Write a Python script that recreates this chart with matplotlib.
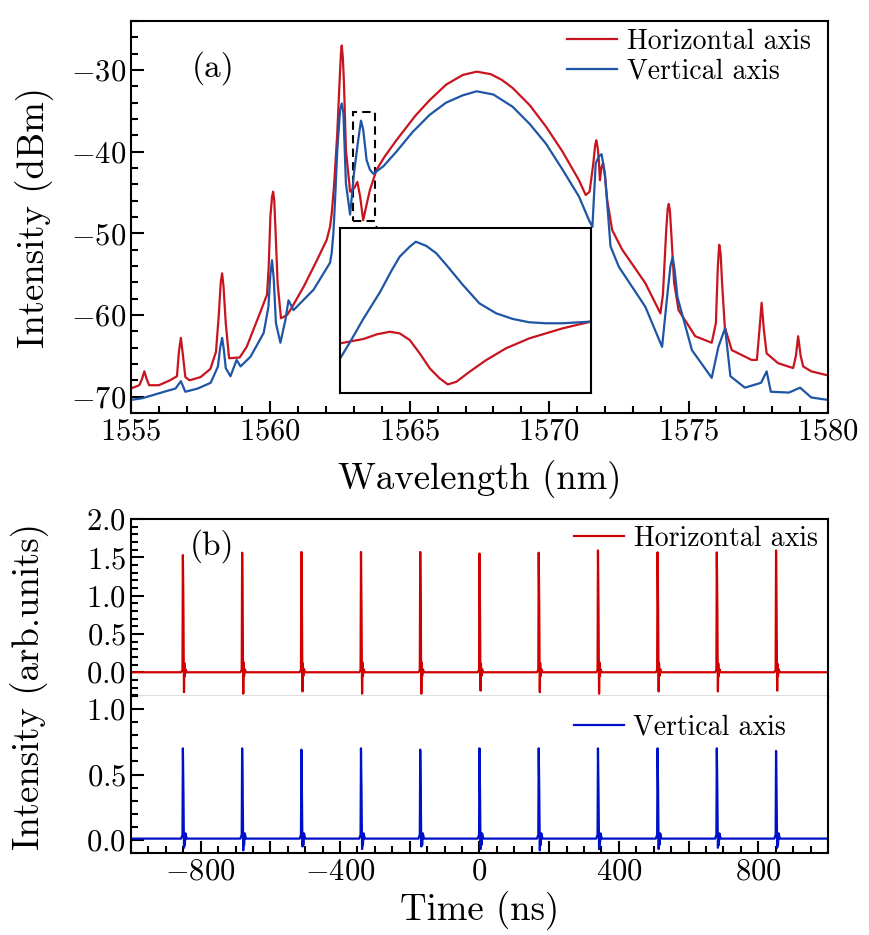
import matplotlib
matplotlib.use('Agg')
import matplotlib.pyplot as plt
from matplotlib.patches import Rectangle
from matplotlib.ticker import MultipleLocator, FuncFormatter

plt.rcParams['font.family'] = 'serif'
plt.rcParams['font.serif'] = ['cmr10']
plt.rcParams['mathtext.fontset'] = 'cm'
plt.rcParams['axes.formatter.use_mathtext'] = True
plt.rcParams['axes.unicode_minus'] = True

# ---- (a) optical spectrum ----
red_wl = [1555.0, 1555.3, 1555.4, 1555.48, 1555.56, 1555.65, 1556.0, 1556.4, 1556.65, 1556.72,
          1556.79, 1556.86, 1556.95, 1557.1, 1557.5, 1557.85, 1558.05, 1558.15, 1558.22, 1558.27,
          1558.32, 1558.4, 1558.52, 1558.9, 1559.15, 1559.6, 1559.88, 1559.94, 1560.0, 1560.06,
          1560.1, 1560.14, 1560.18, 1560.26, 1560.38, 1560.6, 1560.75, 1561.2, 1561.67, 1562.02,
          1562.14, 1562.2, 1562.29, 1562.4, 1562.48, 1562.53, 1562.56, 1562.6, 1562.64, 1562.71,
          1562.86, 1563.0, 1563.12, 1563.22, 1563.33, 1563.45, 1563.57, 1563.81, 1564.1, 1564.52,
          1565.2, 1565.71, 1566.3, 1566.9, 1567.4, 1567.9, 1568.3, 1568.69, 1569.3, 1569.88,
          1570.48, 1571.07, 1571.31, 1571.45, 1571.58, 1571.65, 1571.69, 1571.74, 1571.78, 1571.82,
          1571.87, 1571.93, 1572.0, 1572.08, 1572.26, 1572.62, 1573.45, 1573.99, 1574.08, 1574.2,
          1574.25, 1574.29, 1574.33, 1574.38, 1574.48, 1574.64, 1575.24, 1575.83, 1575.98, 1576.05,
          1576.1, 1576.15, 1576.2, 1576.3, 1576.55, 1577.26, 1577.45, 1577.55, 1577.62, 1577.7,
          1577.8, 1578.21, 1578.75, 1578.85, 1578.93, 1579.02, 1579.11, 1579.4, 1579.88, 1580.0]
red_db = [-69.0, -68.6, -67.8, -66.9, -67.8, -68.6, -68.6, -68.0, -67.5, -64.5,
          -62.8, -64.8, -67.6, -68.0, -67.6, -66.6, -64.5, -60.0, -56.0, -54.9,
          -56.5, -61.0, -65.3, -65.2, -63.9, -60.0, -57.5, -54.1, -48.0, -45.5,
          -44.9, -46.0, -49.2, -56.1, -60.4, -60.0, -59.2, -56.5, -53.3, -50.8,
          -49.2, -47.6, -43.9, -37.7, -31.6, -28.0, -27.0, -28.5, -31.6, -39.8,
          -44.9, -44.5, -43.7, -45.5, -48.4, -46.5, -44.7, -42.2, -40.6, -38.6,
          -35.6, -33.7, -31.8, -30.6, -30.2, -30.5, -31.2, -32.2, -34.3, -36.9,
          -40.0, -43.5, -45.3, -44.9, -41.5, -39.2, -38.6, -39.5, -41.0, -43.5,
          -42.0, -41.4, -43.0, -45.9, -49.6, -52.0, -56.1, -59.8, -57.5, -49.5,
          -47.0, -46.4, -47.2, -50.0, -56.0, -59.4, -62.6, -63.4, -61.0, -54.0,
          -51.4, -52.5, -56.0, -61.5, -64.3, -65.5, -65.5, -61.5, -58.5, -61.8,
          -64.7, -65.9, -66.5, -65.0, -62.6, -65.0, -66.3, -66.9, -67.3, -67.4]

blue_wl = [1555.0, 1555.4, 1555.8, 1556.19, 1556.6, 1556.79, 1556.95, 1557.4, 1557.86, 1558.12,
           1558.2, 1558.27, 1558.33, 1558.4, 1558.57, 1558.79, 1558.93, 1559.29, 1559.76, 1559.93,
           1560.0, 1560.06, 1560.12, 1560.2, 1560.36, 1560.54, 1560.65, 1560.83, 1561.55, 1562.14,
           1562.2, 1562.26, 1562.32, 1562.4, 1562.5, 1562.56, 1562.62, 1562.71, 1562.86, 1563.0,
           1563.15, 1563.25, 1563.33, 1563.45, 1563.57, 1563.69, 1564.05, 1564.52, 1565.1, 1565.71,
           1566.3, 1566.9, 1567.4, 1568.0, 1568.69, 1569.3, 1569.88, 1570.48, 1571.07, 1571.43,
           1571.55, 1571.67, 1571.78, 1571.88, 1572.0, 1572.2, 1572.5, 1573.45, 1574.05, 1574.23,
           1574.35, 1574.43, 1574.5, 1574.6, 1575.12, 1575.83, 1576.07, 1576.31, 1576.5, 1577.02,
           1577.6, 1577.8, 1577.95, 1578.6, 1579.0, 1579.4, 1580.0]
blue_db = [-70.4, -70.2, -69.8, -69.4, -69.0, -68.1, -69.4, -69.0, -68.3, -66.3,
           -64.0, -62.8, -64.2, -66.5, -67.5, -65.5, -66.3, -65.1, -62.2, -59.0,
           -55.0, -53.3, -55.5, -61.0, -63.4, -60.6, -58.2, -59.4, -56.9, -53.6,
           -52.4, -50.0, -46.0, -39.8, -34.9, -34.1, -35.3, -43.9, -47.7, -42.6,
           -38.6, -36.2, -37.3, -41.0, -42.2, -42.7, -41.8, -40.0, -37.6, -35.5,
           -34.0, -33.1, -32.6, -33.0, -34.5, -36.6, -39.0, -42.2, -45.5, -48.4,
           -49.2, -41.4, -40.6, -40.3, -42.7, -51.6, -54.1, -59.0, -63.9, -57.8,
           -54.0, -52.9, -54.5, -57.8, -64.3, -67.7, -63.9, -61.6, -67.5, -68.9,
           -68.3, -66.9, -69.4, -69.5, -68.9, -70.1, -70.4]

# inset (zoom of dashed box), normalised coordinates
ins_blue_x = [0.0, 0.04, 0.093, 0.159, 0.205, 0.238, 0.278, 0.302, 0.344, 0.384,
              0.424, 0.49, 0.556, 0.623, 0.689, 0.755, 0.821, 0.887, 1.0]
ins_blue_y = [0.21, 0.31, 0.45, 0.61, 0.74, 0.825, 0.885, 0.915, 0.89, 0.845,
              0.775, 0.654, 0.543, 0.483, 0.449, 0.429, 0.423, 0.423, 0.433]
ins_red_x = [0.0, 0.093, 0.146, 0.199, 0.238, 0.278, 0.318, 0.358, 0.397, 0.43,
             0.464, 0.517, 0.583, 0.662, 0.755, 0.887, 1.0]
ins_red_y = [0.302, 0.328, 0.356, 0.372, 0.362, 0.322, 0.241, 0.151, 0.091, 0.054,
             0.07, 0.131, 0.201, 0.272, 0.332, 0.392, 0.433]

# ---- (b) pulse trains ----
pulse_t = [-851, -681, -511, -340, -170, 0, 170, 340, 511, 681, 851]
red_peak = [1.53, 1.56, 1.57, 1.57, 1.57, 1.55, 1.56, 1.59, 1.565, 1.565, 1.59]
red_dip = [-0.26, -0.28, -0.25, -0.28, -0.28, -0.24, -0.26, -0.28, -0.25, -0.25, -0.24]
blue_peak = [0.70, 0.70, 0.69, 0.70, 0.69, 0.70, 0.70, 0.70, 0.70, 0.70, 0.68]
blue_dip = [-0.06, -0.08, -0.05, -0.07, -0.05, -0.07, -0.08, -0.07, -0.07, -0.06, -0.06]
shape_dt = [-5, -1.2, 0, 1.5, 2.5, 3.2, 4.2, 5.5, 7.5, 11]

RED_A = '#c8141e'
BLUE_A = '#1f55a5'
RED_B = '#d00000'
BLUE_B = '#0010c8'


def pulse_trace(peaks, dips, base):
    t, v = [-1000], [base]
    for t0, p, d in zip(pulse_t, peaks, dips):
        vals = [base, base + 0.03, p, 0.55 * p, base + 0.08, d, base + 0.12 * abs(d) / 0.26,
                base - 0.05, base + 0.04, base]
        t += [t0 + dt for dt in shape_dt]
        v += vals
    t.append(1000)
    v.append(base)
    return t, v


fig = plt.figure(figsize=(8.69, 9.35), dpi=100)

ax = fig.add_axes([0.1507, 0.5583, 0.8021, 0.4192])
ax.plot(red_wl, red_db, color=RED_A, lw=1.6, label='Horizontal axis')
ax.plot(blue_wl, blue_db, color=BLUE_A, lw=1.6, label='Vertical axis')
ax.set_xlim(1555, 1580)
ax.set_ylim(-72, -24)
ax.xaxis.set_major_locator(MultipleLocator(5))
ax.xaxis.set_minor_locator(MultipleLocator(1))
ax.yaxis.set_major_locator(MultipleLocator(10))
ax.yaxis.set_minor_locator(MultipleLocator(2))
ax.tick_params(which='both', direction='in', top=False, right=False, width=1.5, labelsize=22)
ax.tick_params(which='major', length=9)
ax.tick_params(which='minor', length=5)
for s in ax.spines.values():
    s.set_linewidth(1.5)
ax.set_xlabel('Wavelength (nm)', fontsize=26.5, labelpad=11)
ax.set_ylabel('Intensity (dBm)', fontsize=26.5, labelpad=12)
ax.text(0.118, 0.88, '(a)', transform=ax.transAxes, fontsize=24, ha='center', va='center')
ax.legend(loc='upper right', bbox_to_anchor=(0.975, 0.98), frameon=False, fontsize=20,
          handlelength=1.8, handletextpad=0.35, labelspacing=0.1, borderaxespad=0, borderpad=0)

ax.add_patch(Rectangle((1562.98, -48.5), 0.77, 13.4, fill=False, ec='k', lw=1.5, ls=(0, (4, 2.5))))
ax.annotate('', xy=(1564.35, -52.85), xytext=(1563.76, -48.9),
            arrowprops=dict(arrowstyle='-|>', color='k', lw=1.5, mutation_scale=22))

ins = ax.inset_axes([1562.5, -69.6, 8.99, 20.3], transform=ax.transData)
ins.plot(ins_red_x, ins_red_y, color=RED_A, lw=1.6)
ins.plot(ins_blue_x, ins_blue_y, color=BLUE_A, lw=1.6)
ins.set_xlim(0, 1)
ins.set_ylim(0, 1)
ins.set_xticks([])
ins.set_yticks([])
for s in ins.spines.values():
    s.set_linewidth(1.5)

# (b) top: horizontal axis
bt = fig.add_axes([0.1507, 0.2556, 0.8021, 0.1893])
t_r, v_r = pulse_trace(red_peak, red_dip, 0.0)
bt.plot(t_r, v_r, color=RED_B, lw=1.6, label='Horizontal axis')
bt.set_xlim(-1000, 1000)
bt.set_ylim(-0.31, 2.0)
bt.yaxis.set_major_locator(MultipleLocator(0.5))
bt.yaxis.set_minor_locator(MultipleLocator(0.1))
bt.tick_params(which='both', direction='in', bottom=False, top=False, right=False,
               labelbottom=False, width=1.5, labelsize=22)
bt.tick_params(which='major', length=9)
bt.tick_params(which='minor', length=5)
for s in bt.spines.values():
    s.set_linewidth(1.5)
bt.spines['bottom'].set_linewidth(1.0)
bt.spines['bottom'].set_color('#555555')
bt.text(0.116, 0.847, '(b)', transform=bt.transAxes, fontsize=24, ha='center', va='center')
bt.legend(loc='center right', bbox_to_anchor=(0.985, 0.89), frameon=False, fontsize=20,
          handlelength=1.8, handletextpad=0.35, borderaxespad=0, borderpad=0)

# (b) bottom: vertical axis
bb = fig.add_axes([0.1507, 0.0877, 0.8021, 0.1679])
t_b, v_b = pulse_trace(blue_peak, blue_dip, 0.01)
bb.plot(t_b, v_b, color=BLUE_B, lw=1.6, label='Vertical axis')
bb.set_xlim(-1000, 1000)
bb.set_ylim(-0.1, 1.1)
bb.xaxis.set_major_locator(MultipleLocator(200))
bb.xaxis.set_minor_locator(MultipleLocator(50))
bb.xaxis.set_major_formatter(FuncFormatter(
    lambda v, p: r'$\mathdefault{%d}$' % v if round(v) % 400 == 0 else ''))
bb.yaxis.set_major_locator(MultipleLocator(0.5))
bb.yaxis.set_minor_locator(MultipleLocator(0.1))
bb.tick_params(which='both', direction='in', top=False, right=False, width=1.5, labelsize=22)
bb.tick_params(which='major', length=9)
bb.tick_params(which='minor', length=5)
for s in bb.spines.values():
    s.set_linewidth(1.5)
bb.spines['top'].set_visible(False)
bb.set_xlabel('Time (ns)', fontsize=26.5, labelpad=4)
bb.legend(loc='center right', bbox_to_anchor=(0.94, 0.80), frameon=False, fontsize=20,
          handlelength=1.8, handletextpad=0.35, borderaxespad=0, borderpad=0)

fig.text(30 / 869, 1 - 686 / 935, 'Intensity (arb.units)', rotation=90, fontsize=26.5,
         ha='center', va='center')

fig.savefig('out.png', dpi=100)
